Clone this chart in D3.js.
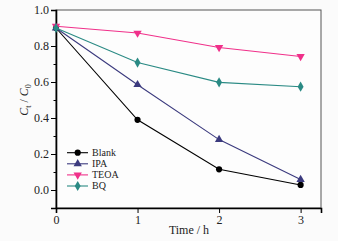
<!DOCTYPE html>
<html><head><meta charset="utf-8">
<script src="https://cdn.jsdelivr.net/npm/d3@7"></script>
<style>body{margin:0;background:#fff;}svg{display:block;} text{font-family:"Liberation Serif","DejaVu Serif",serif;}</style>
</head><body><svg id="c" width="338" height="241"></svg>
<script>
const times = [0, 1, 2, 3];
const blank = [0.90, 0.39, 0.115, 0.028];
const ipa = [0.90, 0.585, 0.28, 0.058];
const teoa = [0.91, 0.872, 0.792, 0.742];
const bq = [0.90, 0.708, 0.598, 0.574];
const seriesNames = ["Blank", "IPA", "TEOA", "BQ"];
const yTicks = [0.0, 0.2, 0.4, 0.6, 0.8, 1.0];
const xTicks = [0, 1, 2, 3];

const colors = ["#000000", "#3b3a7e", "#f0308a", "#2a8a84"];
const symbols = [d3.symbolCircle, d3.symbolTriangle, d3.symbolTriangle, d3.symbolDiamond];
const rot = [0, 0, 180, 0];
const sizes = [30, 30, 30, 30];
const data = [blank, ipa, teoa, bq];

const svg = d3.select("#c");
svg.append("rect").attr("width",338).attr("height",241).attr("fill","#fbfbfb");
const L=56, R=321, T=10, B=208;
const x = d3.scaleLinear().domain([0, 3.25]).range([L, R]);
const y = d3.scaleLinear().domain([-0.1, 1.0]).range([B, T]);
const font = "Liberation Serif";

svg.append("rect").attr("x",L).attr("y",T).attr("width",R-L).attr("height",B-T)
  .attr("fill","#fdfdfd").attr("stroke","#555").attr("stroke-width",1);

// y axis
const yAxis = d3.axisLeft(y).tickValues(yTicks).tickFormat(d3.format(".1f")).tickSize(5).tickPadding(2);
const gy = svg.append("g").attr("transform",`translate(${L},0)`).call(yAxis);
gy.attr("font-family",null);
gy.select(".domain").attr("stroke","#000").attr("stroke-width",1.6);
gy.selectAll("text").attr("font-family",font).attr("font-size",12).attr("fill","#222");
gy.selectAll(".tick line").attr("stroke","#000");
const yMinor = d3.axisLeft(y).tickValues([-0.1,0.1,0.3,0.5,0.7,0.9]).tickFormat("").tickSize(2.5);
const gym = svg.append("g").attr("transform",`translate(${L},0)`).call(yMinor);
gym.select(".domain").remove();

// x axis
const xAxis = d3.axisBottom(x).tickValues(xTicks).tickFormat(d3.format("d")).tickSize(5).tickPadding(2);
const gx = svg.append("g").attr("transform",`translate(0,${B})`).call(xAxis);
gx.attr("font-family",null);
gx.select(".domain").attr("stroke","#000").attr("stroke-width",1.6);
gx.selectAll("text").attr("font-family",font).attr("font-size",12).attr("fill","#222");

// labels
svg.append("text").attr("x",189).attr("y",234).attr("text-anchor","middle")
  .attr("font-family",font).attr("font-size",12).attr("fill","#222").text("Time / h");
const yl = svg.append("text").attr("transform","translate(28,100) rotate(-90)").attr("text-anchor","middle")
  .attr("font-family",font).attr("font-size",12).attr("fill","#222");
yl.append("tspan").attr("font-style","italic").text("C");
yl.append("tspan").attr("font-size",8).attr("dy",3).text("t");
yl.append("tspan").attr("dy",-3).text(" / ");
yl.append("tspan").attr("font-style","italic").text("C");
yl.append("tspan").attr("font-size",8).attr("dy",3).text("0");

// series
const line = d3.line().x((d,i)=>x(times[i])).y(d=>y(d));
data.forEach((s,k)=>{
  svg.append("path").datum(s).attr("d",line).attr("fill","none")
    .attr("stroke",colors[k]).attr("stroke-width",1.1);
  svg.selectAll(null).data(s).enter().append("path")
    .attr("d",d3.symbol().type(symbols[k]).size(sizes[k]))
    .attr("transform",(d,i)=>`translate(${x(times[i])},${y(d)}) rotate(${rot[k]})`)
    .attr("fill",colors[k]);
});

// legend
const lg = svg.append("g");
seriesNames.forEach((n,k)=>{
  const yy = 152.7 + k*11.1;
  lg.append("line").attr("x1",67).attr("x2",88).attr("y1",yy).attr("y2",yy)
    .attr("stroke",colors[k]).attr("stroke-width",1.1);
  lg.append("path").attr("d",d3.symbol().type(symbols[k]).size(sizes[k]))
    .attr("transform",`translate(77.7,${yy}) rotate(${rot[k]})`).attr("fill",colors[k]);
  lg.append("text").attr("x",92).attr("y",yy+3.3).attr("font-family",font)
    .attr("font-size",10).attr("fill","#222").text(n);
});
</script></body></html>
